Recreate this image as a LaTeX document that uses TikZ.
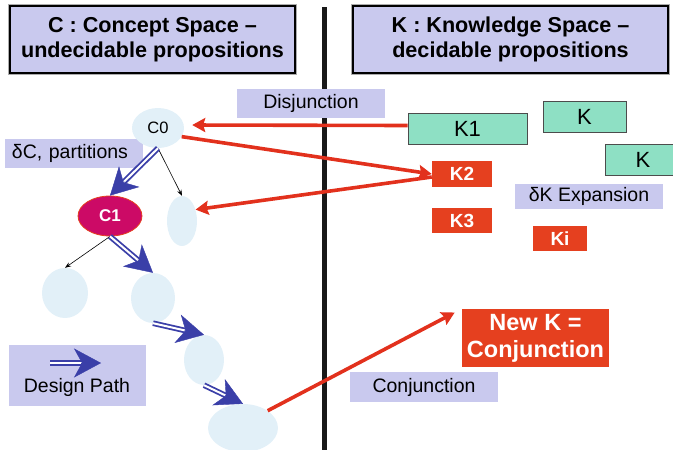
\documentclass[tikz,border=0pt]{standalone}
\usepackage{fontspec}
\setmainfont{Liberation Sans}
\usetikzlibrary{arrows.meta,calc,shapes.geometric}

\definecolor{lav}{HTML}{C9C9EE}
\definecolor{cellc}{HTML}{E2F0F8}
\definecolor{mag}{HTML}{CC0A66}
\definecolor{kred}{HTML}{E5401F}
\definecolor{ared}{HTML}{E2311D}
\definecolor{mint}{HTML}{8EE0C4}
\definecolor{dblue}{HTML}{3A3FA8}

% double-lined design step arrow with a large stealth head
\newcommand\designstep[2]{%
  \draw[dshaft] (#1) -- (#2);
  \draw[dhead] ($(#2)!20pt!(#1)$) -- (#2);
}

\begin{document}
\begin{tikzpicture}[x=1pt,y=-1pt,
  titlebox/.style={rectangle, fill=lav, draw=black, line width=1.6pt,
    preaction={draw=gray!65, line width=3.6pt},
    minimum height=67pt, align=center, inner sep=0pt,
    font=\fontsize{21.6}{25}\selectfont\bfseries},
  tag/.style={rectangle, fill=lav, inner sep=0pt,
    font=\fontsize{19.5}{23}\selectfont},
  cell/.style={ellipse, fill=cellc, inner sep=0pt},
  kbox/.style={rectangle, fill=mint, draw=black!70, line width=0.8pt,
    inner sep=0pt, minimum height=31pt, font=\fontsize{22}{26}\selectfont},
  kred/.style={rectangle, fill=kred, inner sep=0pt, text=white,
    font=\fontsize{19}{23}\selectfont\bfseries},
  redarrow/.style={draw=ared, line width=3.6pt,
    -{Stealth[length=13pt,width=14pt,inset=2pt]}},
  thinarrow/.style={draw=black, line width=0.6pt,
    -{Stealth[length=6pt,width=4.5pt]}},
  dshaft/.style={draw=dblue, double=white, double distance=2pt,
    line width=1.8pt, shorten >=17pt},
  dhead/.style={draw=dblue, line width=0.4pt,
    -{Stealth[length=27pt,width=29pt,inset=8pt]}}]

\useasboundingbox (0,0) rectangle (673,450);

% headings of the two spaces
\node[titlebox, minimum width=285pt] (tc) at (152.5,39.5)
  {C : Concept Space –\\undecidable propositions};
\node[titlebox, minimum width=315pt] (tk) at (510.5,39.5)
  {K : Knowledge Space –\\decidable propositions};

% divider between C and K
\draw[line width=5pt, black!90] (324,7) -- (324,450);

% labels
\node[tag, minimum width=148pt, minimum height=29pt] (disj) at (311,103.5) {Disjunction};
\node[tag, minimum width=138pt, minimum height=29pt, text width=124pt, align=left] (dc) at (74,153.5) {δC, partitions};
\node[tag, minimum width=148pt, minimum height=25pt] (dk) at (589,196.5) {δK Expansion};
\node[tag, minimum width=148pt, minimum height=30pt] (conj) at (424,387) {Conjunction};

% concept tree
\node[cell, minimum width=52pt, minimum height=40pt, font=\fontsize{16.5}{20}\selectfont] (c0) at (158,128) {C0};
\node[ellipse, fill=mag, draw=kred, line width=0.8pt, inner sep=0pt,
  minimum width=64pt, minimum height=40pt, text=white,
  font=\fontsize{17}{20}\selectfont\bfseries] (c1) at (110,216) {C1};
\node[cell, minimum width=30pt, minimum height=50pt] (es) at (182,221) {};
\node[cell, minimum width=46pt, minimum height=50pt] (e1) at (65,293) {};
\node[cell, minimum width=44pt, minimum height=50pt] (e2) at (153,298) {};
\node[cell, minimum width=40pt, minimum height=50pt] (e3) at (204,360) {};
\node[cell, minimum width=70pt, minimum height=48pt] (e4) at (243,428) {};

% knowledge items
\node[kbox, minimum width=119pt] (k1) at (467.5,128.5) {K1};
\node[kbox, minimum width=83pt] (ka) at (584.5,116.5) {K};
\node[kbox, minimum width=76pt] (kb) at (643,159.5) {K};
\node[kred, minimum width=60pt, minimum height=26pt] (k2) at (462,174) {K2};
\node[kred, minimum width=60pt, minimum height=25pt] (k3) at (462,220.5) {K3};
\node[kred, minimum width=54pt, minimum height=25pt] (ki) at (560,238.5) {Ki};
\node[kred, minimum width=147pt, minimum height=58pt, align=center,
  font=\fontsize{23.5}{27}\selectfont\bfseries] (newk) at (535.5,338) {New K =\\Conjunction};

% design path legend
\node[tag, minimum width=137pt, minimum height=61pt] (dp) at (77.5,375.5) {};
\node[font=\fontsize{19.5}{23}\selectfont, inner sep=0pt] (dpt) at (77,387) {Design Path};
\coordinate (dpa) at (50,363);
\coordinate (dpb) at (101,363);
\designstep{dpa}{dpb}

% partitions
\draw[thinarrow] (c0.south) -- (es.north);
\draw[thinarrow] (c1.south) -- (e1.north);

% design path
\designstep{c0.south}{c1.north}
\designstep{c1.south}{e2.north}
\designstep{e2.south}{e3.north}
\designstep{e3.south}{e4.north}

% disjunction, expansion and conjunction
\draw[redarrow, shorten >=8pt] ([yshift=3pt]k1.west) -- ([yshift=3pt]c0.east);
\draw[redarrow] (c0.-20) -- (k2.west);
\draw[redarrow] ([yshift=-3pt]k2.west) -- (es.40);
\draw[redarrow, shorten >=8pt] (e4.35) -- (newk.north west);

\end{tikzpicture}
\end{document}
